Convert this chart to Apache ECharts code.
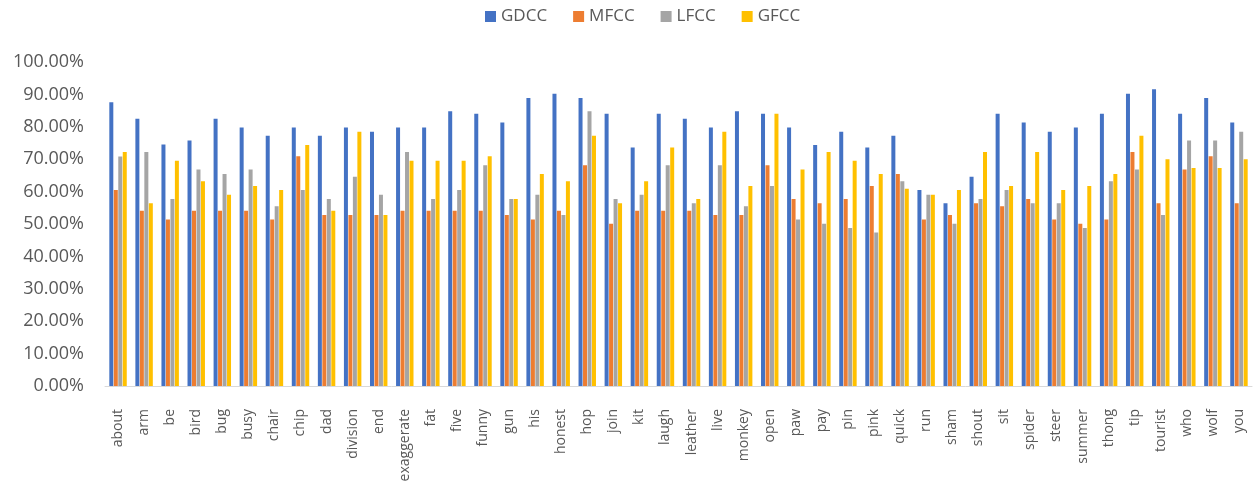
<!DOCTYPE html>
<html>
<head>
<meta charset="utf-8">
<script src="https://cdn.jsdelivr.net/npm/echarts@6/dist/echarts.min.js"></script>
<style>
  html, body { margin: 0; padding: 0; background: #fff; }
  #chart { width: 1255px; height: 490px; }
</style>
</head>
<body>
<div id="chart"></div>
<script>
// Words tested
const categories = ['about','arm','be','bird','bug','busy','chair','chip','dad','division','end','exaggerate','fat','five','funny','gun','his','honest','hop','join','kit','laugh','leather','live','monkey','open','paw','pay','pin','pink','quick','run','sham','shout','sit','spider','steer','summer','thong','tip','tourist','who','wolf','you'];

// Recognition accuracy (%) per feature type
const gdcc = [87.6,82.5,74.5,75.8,82.5,79.8,77.2,79.8,77.2,79.8,78.5,79.8,79.8,84.8,84.0,81.3,88.9,90.2,88.9,84.0,73.6,84.0,82.5,79.8,84.8,84.0,79.8,74.4,78.5,73.6,77.2,60.5,56.4,64.6,84.0,81.3,78.5,79.8,84.0,90.2,91.6,84.0,88.9,81.3];
const mfcc = [60.5,54.1,51.4,54.1,54.1,54.1,51.4,70.9,52.8,52.8,52.8,54.1,54.1,54.1,54.1,52.8,51.4,54.1,68.1,50.1,54.1,54.1,54.1,52.8,52.8,68.1,57.7,56.4,57.7,61.7,65.4,51.4,52.8,56.4,55.5,57.7,51.4,50.1,51.4,72.2,56.4,66.8,70.9,56.4];
const lfcc = [70.8,72.2,57.7,66.8,65.4,66.8,55.5,60.5,57.7,64.6,59.0,72.2,57.7,60.5,68.1,57.7,59.0,52.8,84.8,57.7,59.0,68.1,56.4,68.1,55.5,61.7,51.4,50.1,48.8,47.4,63.2,59.0,50.1,57.7,60.5,56.4,56.4,48.8,63.2,66.8,52.8,75.8,75.8,78.5];
const gfcc = [72.2,56.4,69.5,63.2,59.0,61.7,60.5,74.4,54.1,78.5,52.8,69.5,69.5,69.5,70.9,57.7,65.4,63.2,77.2,56.4,63.2,73.6,57.7,78.5,61.7,84.0,66.8,72.2,69.5,65.4,60.9,59.0,60.5,72.2,61.7,72.2,60.5,61.7,65.4,77.2,70.0,67.3,67.3,70.0];

const yTicks = [0,10,20,30,40,50,60,70,80,90,100];

const seriesDefs = [
  { name: 'GDCC', data: gdcc, color: '#4472C4' },
  { name: 'MFCC', data: mfcc, color: '#ED7D31' },
  { name: 'LFCC', data: lfcc, color: '#A5A5A5' },
  { name: 'GFCC', data: gfcc, color: '#FFC000' }
];

const font = '"Open Sans", "Noto Sans", sans-serif';
const chart = echarts.init(document.getElementById('chart'), null, { renderer: 'canvas' });
chart.setOption({
  animation: false,
  backgroundColor: '#ffffff',
  legend: {
    top: 3,
    left: 480,
    itemWidth: 11,
    itemHeight: 11,
    itemGap: 26,
    icon: 'rect',
    textStyle: { fontFamily: font, fontSize: 17, color: '#595959' },
    data: seriesDefs.map(s => s.name)
  },
  grid: { left: 105, right: 3, top: 62, bottom: 104, containLabel: false },
  xAxis: {
    type: 'category',
    data: categories,
    axisLine: { show: true, lineStyle: { color: '#D9D9D9', width: 1 } },
    axisTick: { show: false },
    axisLabel: {
      rotate: 90,
      interval: 0,
      margin: 23,
      fontFamily: font,
      fontSize: 14,
      color: '#595959'
    }
  },
  yAxis: {
    type: 'value',
    min: yTicks[0],
    max: yTicks[yTicks.length - 1],
    interval: 10,
    splitLine: { show: false },
    axisLine: { show: false },
    axisTick: { show: false },
    axisLabel: {
      margin: 21,
      fontFamily: font,
      fontSize: 18,
      color: '#595959',
      formatter: v => v.toFixed(2) + '%'
    }
  },
  series: seriesDefs.map(s => ({
    name: s.name,
    type: 'bar',
    data: s.data,
    barWidth: 4,
    barGap: '12%',
    itemStyle: { color: s.color }
  }))
});
</script>
</body>
</html>
